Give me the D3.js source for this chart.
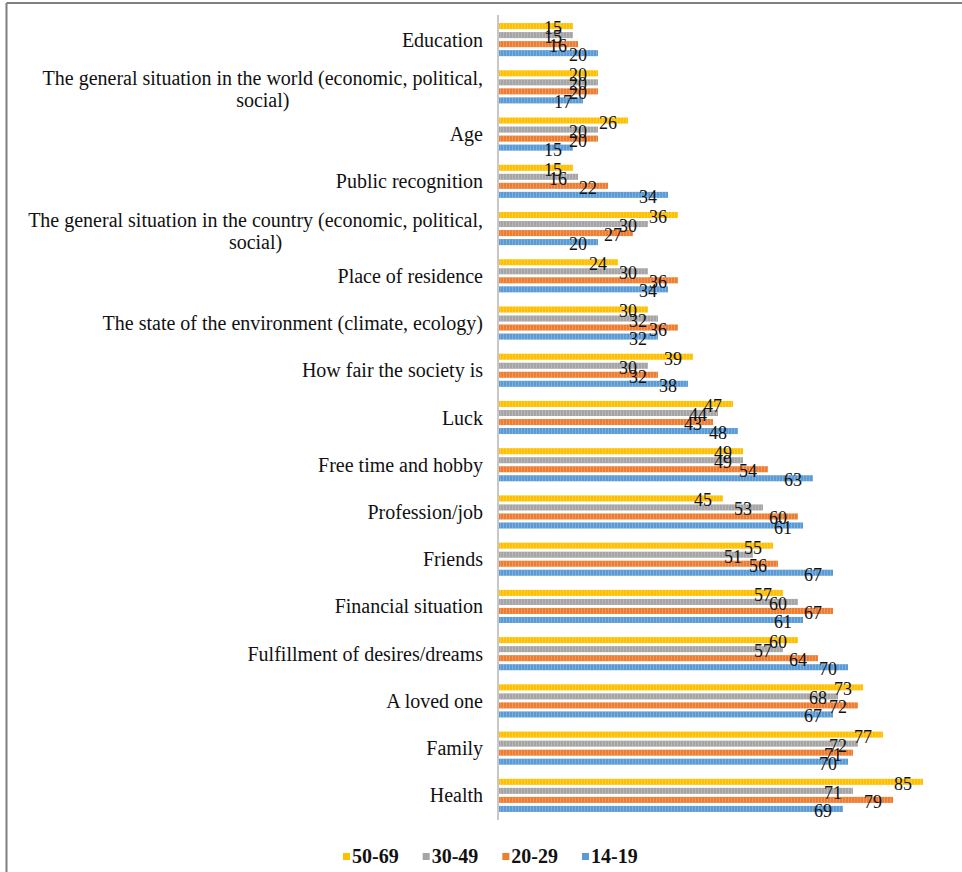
<!DOCTYPE html>
<html>
<head>
<meta charset="utf-8">
<script src="https://cdn.jsdelivr.net/npm/d3@7"></script>
<style>
  html, body { margin: 0; padding: 0; background: #fff; }
  svg { display: block; }
  text { font-family: "Liberation Serif", "Times New Roman", serif; fill: #111; }
</style>
</head>
<body>
<script>
// Factors named by respondents, shares (%) per age group
const categories = [
  "Education",
  "The general situation in the world (economic, political,|social)",
  "Age",
  "Public recognition",
  "The general situation in the country (economic, political,|social)",
  "Place of residence",
  "The state of the environment (climate, ecology)",
  "How fair the society is",
  "Luck",
  "Free time and hobby",
  "Profession/job",
  "Friends",
  "Financial situation",
  "Fulfillment of desires/dreams",
  "A loved one",
  "Family",
  "Health"
];
const seriesNames = ["50-69", "30-49", "20-29", "14-19"];
const age50_69 = [15, 20, 26, 15, 36, 24, 30, 39, 47, 49, 45, 55, 57, 60, 73, 77, 85];
const age30_49 = [15, 20, 20, 16, 30, 30, 32, 30, 44, 49, 53, 51, 60, 57, 68, 72, 71];
const age20_29 = [16, 20, 20, 22, 27, 36, 36, 32, 43, 54, 60, 56, 67, 64, 72, 71, 79];
const age14_19 = [20, 17, 15, 34, 20, 34, 32, 38, 48, 63, 61, 67, 61, 70, 67, 70, 69];
const seriesColors = ["#FFC000", "#A5A5A5", "#ED7D31", "#5B9BD5"];

const W = 962, H = 872;
const values = [age50_69, age30_49, age20_29, age14_19];

const svg = d3.select("body").append("svg").attr("width", W).attr("height", H);

// frame lines (top and left)
svg.append("line").attr("x1", 6.5).attr("x2", W).attr("y1", 3).attr("y2", 3)
  .attr("stroke", "#7f7f7f").attr("stroke-width", 2);
svg.append("line").attr("x1", 6.5).attr("x2", 6.5).attr("y1", 3).attr("y2", H)
  .attr("stroke", "#7f7f7f").attr("stroke-width", 2);

// fine stripe texture used on the bars
const defs = svg.append("defs");
const pat = defs.append("pattern").attr("id", "stripe").attr("patternUnits", "userSpaceOnUse")
  .attr("width", 3).attr("height", 3);
pat.append("rect").attr("x", 2).attr("y", 0).attr("width", 1).attr("height", 3)
  .attr("fill", "#fff").attr("opacity", 0.2);

const x0 = 498;
const x = d3.scaleLinear().domain([0, d3.max(age50_69)]).range([x0, 923]);
const y = d3.scaleBand().domain(d3.range(categories.length)).range([16, 819]).padding(0);
const yInner = d3.scaleBand().domain(seriesNames).range([0, 36]).paddingInner(0.33).paddingOuter(0.16);
const groupOffset = (y.bandwidth() - 36) / 2;

// bars
const groups = svg.append("g").selectAll("g").data(categories).join("g")
  .attr("transform", (d, i) => `translate(0,${y(i) + groupOffset})`);

seriesNames.forEach((s, si) => {
  groups.append("rect")
    .attr("x", x0)
    .attr("y", yInner(s))
    .attr("width", (d, i) => x(values[si][i]) - x0)
    .attr("height", yInner.bandwidth())
    .attr("fill", seriesColors[si]);
  groups.append("rect")
    .attr("x", x0)
    .attr("y", yInner(s))
    .attr("width", (d, i) => x(values[si][i]) - x0)
    .attr("height", yInner.bandwidth())
    .attr("fill", "url(#stripe)");
});

// value labels, near the bar ends
seriesNames.forEach((s, si) => {
  groups.append("text")
    .attr("x", (d, i) => x(values[si][i]) - 11)
    .attr("y", yInner(s) + yInner.bandwidth() / 2 + 8)
    .attr("text-anchor", "end")
    .attr("font-size", 18)
    .text((d, i) => values[si][i]);
});

// vertical axis line
svg.append("line").attr("x1", x0).attr("x2", x0).attr("y1", 15).attr("y2", 820)
  .attr("stroke", "#c8c8c8").attr("stroke-width", 2);

// category labels
const labelRight = 483;
categories.forEach((c, i) => {
  const lines = c.split("|");
  const cy = y(i) + y.bandwidth() / 2;
  const g = svg.append("g");
  const lh = 22;
  const texts = lines.map((ln, li) => g.append("text")
    .attr("font-size", 20)
    .attr("y", cy + 7 + (li - (lines.length - 1) / 2) * lh + (lines.length > 1 ? 2 : 0))
    .attr("text-anchor", "middle")
    .text(ln));
  const maxW = d3.max(texts, t => t.node().getComputedTextLength());
  texts.forEach(t => t.attr("x", labelRight - maxW / 2));
});

// legend
const legend = svg.append("g").attr("transform", "translate(343,857)");
let lx = 0;
seriesNames.forEach((s, si) => {
  legend.append("rect").attr("x", lx).attr("y", -4).attr("width", 7).attr("height", 7)
    .attr("fill", seriesColors[si]);
  const t = legend.append("text").attr("x", lx + 9).attr("y", 6)
    .attr("font-size", 20).attr("font-weight", "bold").text(s);
  lx += 9 + t.node().getComputedTextLength() + 24;
});
</script>
</body>
</html>
